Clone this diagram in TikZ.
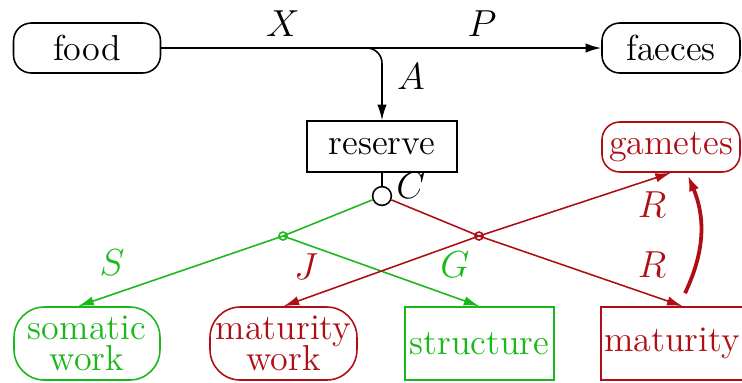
\documentclass[tikz,border=0pt]{standalone}
\usetikzlibrary{arrows.meta,calc}
\definecolor{mygreen}{RGB}{25,185,25}
\definecolor{myred}{RGB}{175,15,20}
\begin{document}
\begin{tikzpicture}[x=0.0112cm,y=-0.0112cm,
  line width=0.5pt,
  every node/.style={font=\fontsize{11.5pt}{12pt}\selectfont},
  tip/.style={-{Latex[length=5pt,width=3pt]}},
  roundbox/.style={draw,rounded corners=0.2cm,minimum height=0.56cm,inner sep=1pt,align=center},
  bigroundbox/.style={draw,rounded corners=0.34cm,minimum height=0.818cm,inner sep=1pt,align=center},
  sqbox/.style={draw,minimum height=0.818cm,inner sep=1pt},
  lab/.style={inner sep=0pt},
  bigcirc/.style={draw,circle,minimum size=0.21cm,inner sep=0pt},
  smallcirc/.style={draw,circle,minimum size=0.09cm,inner sep=0pt}]
\path[use as bounding box] (0,0) rectangle (742,382);

% nodes
\node[roundbox,minimum width=1.646cm] (food) at (87,48) {food};
\node[roundbox,minimum width=1.546cm] (faeces) at (671,48) {faeces};
\node[draw,minimum width=1.68cm,minimum height=0.571cm,inner sep=1pt] (reserve) at (382,146.5) {reserve};
\node[roundbox,myred,minimum width=1.546cm] (gametes) at (671,147) {gametes};
\node[bigroundbox,mygreen,minimum width=1.635cm] (somatic) at (87,343.5) {somatic\\[-2pt]work};
\node[bigroundbox,myred,minimum width=1.646cm] (matwork) at (283.5,343.5) {maturity\\[-2pt]work};
\node[sqbox,mygreen,minimum width=1.669cm] (structure) at (479.5,343.5) {structure};
\node[sqbox,myred,minimum width=1.568cm] (maturity) at (672,343.5) {maturity};

\node[bigcirc] (C) at (382,196) {};
\node[smallcirc,mygreen] (gs) at (283,236) {};
\node[smallcirc,myred] (rs) at (479,236) {};
\coordinate (j) at (367,48);

% connectors
\draw[tip] (food.east) -- (faeces.west);
\draw[tip,rounded corners=0.17cm] (j) -| (reserve.north);
\draw (reserve.south) -- (C.north);

\draw[mygreen] (C) -- (gs.center);
\draw[mygreen,tip] (gs.center) -- ([xshift=-0.1cm]somatic.north);
\draw[mygreen,tip] (gs.center) -- (structure.north);

\draw[myred] (C) -- (rs.center);
\draw[myred,tip] (rs.center) -- ([xshift=0.12cm]maturity.north);
\draw[myred,tip] (rs.center) -- (gametes.south);
\draw[myred,tip] (rs.center) -- (matwork.north);

\draw[myred,line width=1.2pt,-{Latex[length=5pt,width=3.4pt]}]
  ([xshift=0.146cm,yshift=0.146cm]maturity.north) to[bend right=24]
  ([xshift=0.19cm,yshift=-0.03cm]gametes.south);

% labels
\node[lab] (lX) at (283,24) {$X$};
\node[lab] (lP) at (482,24) {$P$};
\node[lab] (lA) at (411,77) {$A$};
\node[lab] (lC) at (411,186) {$C$};
\node[lab,mygreen] (lS) at (112,263) {$S$};
\node[lab,myred] (lJ) at (306,267) {$J$};
\node[lab,mygreen] (lG) at (455,265) {$G$};
\node[lab,myred] (lR1) at (652,205) {$R$};
\node[lab,myred] (lR2) at (652,265) {$R$};
\end{tikzpicture}
\end{document}
